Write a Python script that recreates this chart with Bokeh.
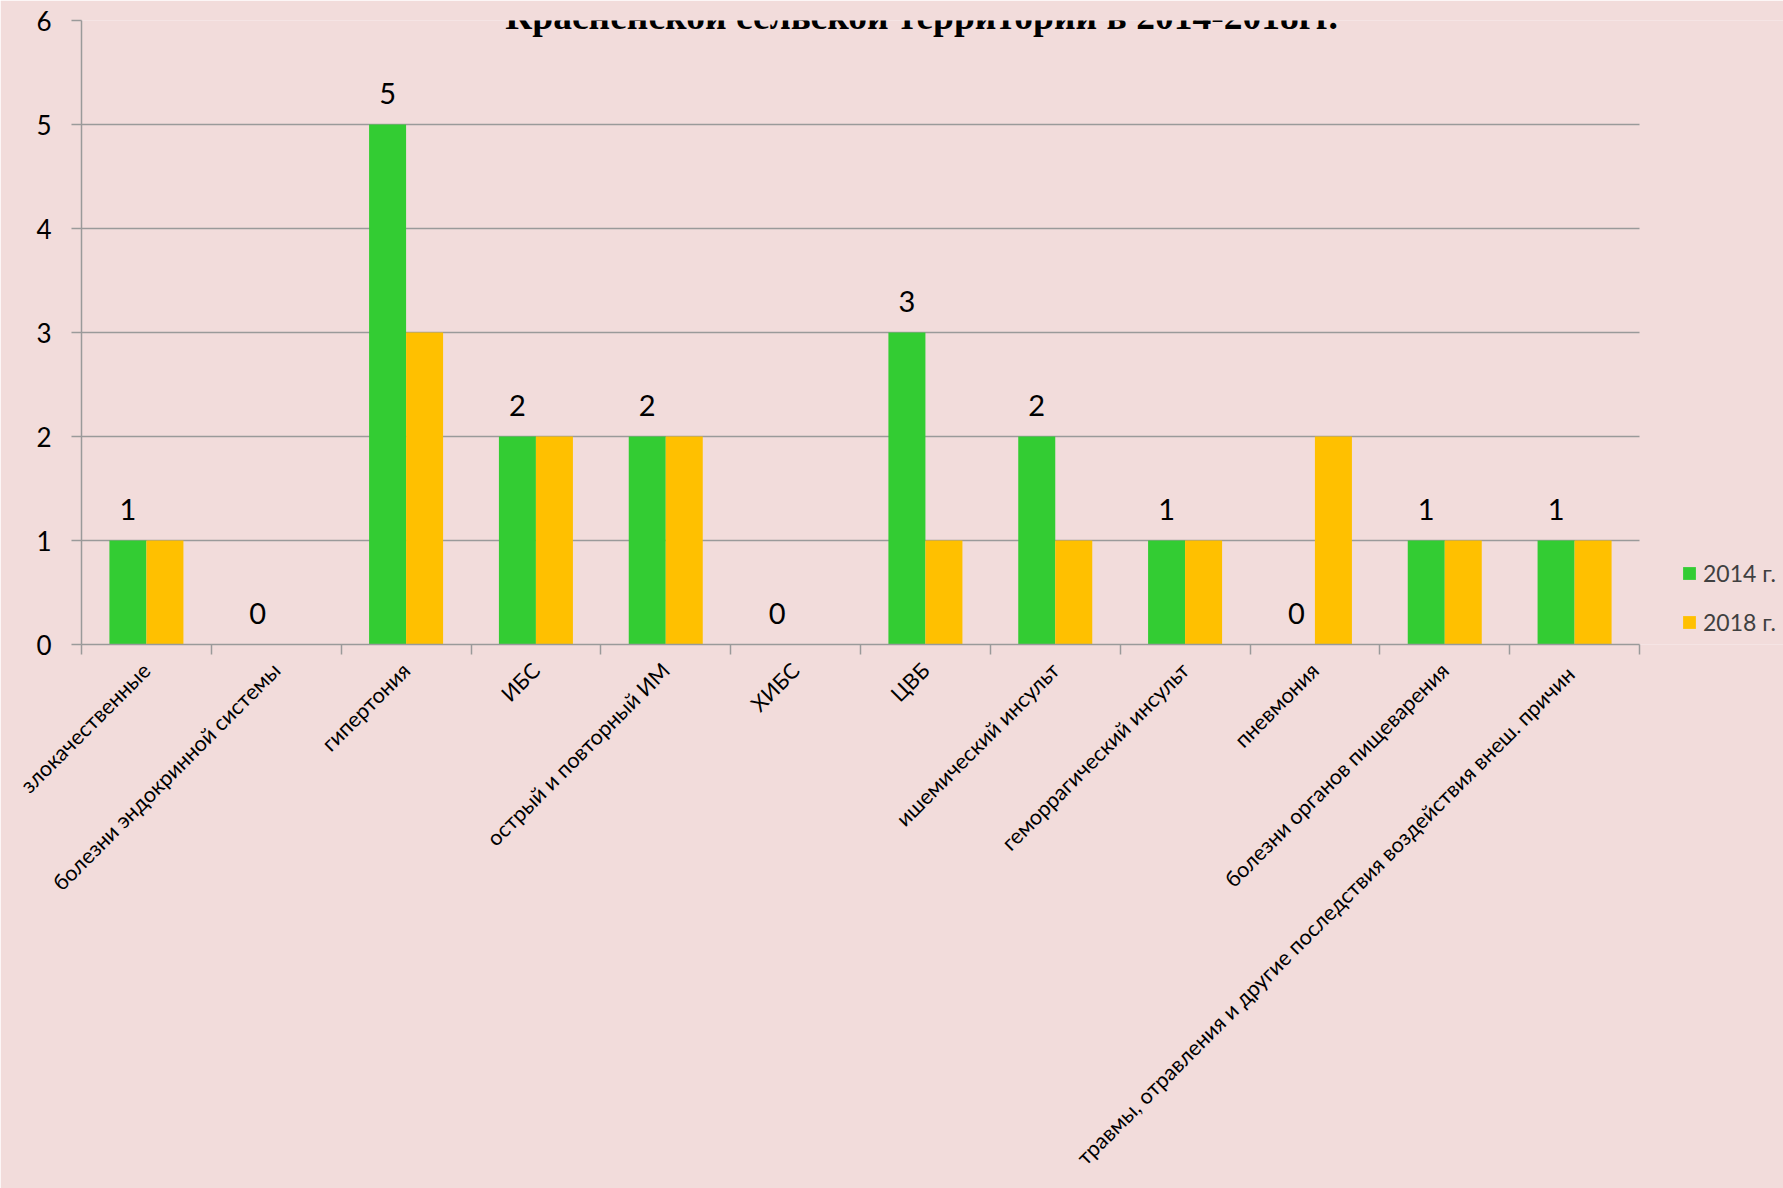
import numpy as np
from bokeh.plotting import figure
from bokeh.models import (ColumnDataSource, FixedTicker, LabelSet, Label, Legend, LegendItem, Range1d)
from bokeh.core.properties import value
from bokeh.embed import file_html
from bokeh.resources import INLINE

# ---- data ----
categories = [
    "злокачественные",
    "болезни эндокринной системы",
    "гипертония",
    "ИБС",
    "острый и повторный ИМ",
    "ХИБС",
    "ЦВБ",
    "ишемический инсульт",
    "геморрагический инсульт",
    "пневмония",
    "болезни органов пищеварения",
    "травмы, отравления и другие последствия воздействия внеш.  причин",
]
values_2014 = [1, 0, 5, 2, 2, 0, 3, 2, 1, 0, 1, 1]
values_2018 = [1, 0, 3, 2, 2, 0, 1, 1, 1, 2, 1, 1]
series_names = ["2014 г.", "2018 г."]
y_ticks = [0, 1, 2, 3, 4, 5, 6]
title_text = "Красненской сельской территории в 2014-2018гг."

BG = "#f2dcdb"
GREEN = "#33cc33"
YELLOW = "#ffc000"
GRID = "#9a9a9a"
FONT = "Lato"

n = len(categories)
centers = np.arange(n) + 0.5
bw = 0.285

W, H = 1783, 1188
LEFT, TOP, RIGHT_EDGE, BOTTOM = 81, 20, 1639, 644
# frame runs to the canvas edge so the legend can sit to the right of the bars
x_end = n * (W - LEFT) / (RIGHT_EDGE - LEFT)

src = ColumnDataSource(dict(
    x14=centers - bw / 2,
    x18=centers + bw / 2,
    v14=values_2014,
    v18=values_2018,
    lab=[str(v) for v in values_2014],
))

p = figure(width=W, height=H, output_backend="svg", toolbar_location=None,
           x_range=Range1d(0, x_end), y_range=Range1d(0, 6),
           min_border_left=LEFT, min_border_right=0, min_border_top=TOP,
           min_border_bottom=H - BOTTOM)
p.background_fill_color = BG
p.border_fill_color = BG
p.outline_line_color = None

r14 = p.vbar(x="x14", top="v14", width=bw, bottom=0, source=src, fill_color=GREEN, line_color=None)
r18 = p.vbar(x="x18", top="v18", width=bw, bottom=0, source=src, fill_color=YELLOW, line_color=None)

# x axis
xa = p.xaxis[0]
xa.bounds = (0, n)
xa.ticker = FixedTicker(ticks=list(centers), minor_ticks=list(range(n + 1)))
xa.major_label_overrides = {float(c): lab for c, lab in zip(centers, categories)}
xa.major_label_orientation = np.pi / 4
xa.major_tick_line_color = None
xa.major_tick_out = 0
xa.major_tick_in = 0
xa.minor_tick_out = 10
xa.minor_tick_in = 0
xa.minor_tick_line_color = GRID
xa.minor_tick_line_width = 1.5
xa.axis_line_color = GRID
xa.axis_line_width = 1.5
xa.major_label_text_font = FONT
xa.major_label_text_font_size = "21.5px"
xa.major_label_text_color = "#000000"
xa.major_label_standoff = 12

# y axis
ya = p.yaxis[0]
ya.ticker = FixedTicker(ticks=y_ticks)
ya.major_tick_out = 10
ya.major_tick_in = 0
ya.minor_tick_line_color = None
ya.major_tick_line_color = GRID
ya.major_tick_line_width = 1.5
ya.axis_line_color = GRID
ya.axis_line_width = 1.5
ya.major_label_text_font = FONT
ya.major_label_text_font_size = "26px"
ya.major_label_text_color = "#000000"
ya.major_label_standoff = 20

p.xgrid.grid_line_color = None
p.ygrid.ticker = FixedTicker(ticks=y_ticks)
p.ygrid.cross_bounds = (0, n)
p.ygrid.grid_line_color = GRID
p.ygrid.grid_line_width = 1.5

labels = LabelSet(x="x14", y="v14", text="lab", source=src, y_offset=21,
                  text_align="center", text_baseline="alphabetic",
                  text_font=value(FONT), text_font_size=value("29px"), text_color="#000000")
p.add_layout(labels)

title = Label(x=6.47, y=6, y_offset=4.5, text=title_text, text_align="center",
              text_baseline="alphabetic", text_font="Liberation Serif",
              text_font_style="bold", text_font_size="37.5px", text_color="#000000")
p.add_layout(title)

legend = Legend(items=[LegendItem(label=series_names[0], renderers=[r14]),
                       LegendItem(label=series_names[1], renderers=[r18])],
                location=(1600, 8), glyph_width=16, glyph_height=16, label_standoff=6,
                padding=0, margin=0, spacing=21, border_line_color=None,
                background_fill_alpha=0, label_text_font=FONT,
                label_text_font_size="23px", label_text_color="#404040")
p.add_layout(legend)

open("out.html", "w").write(file_html(p, INLINE))
